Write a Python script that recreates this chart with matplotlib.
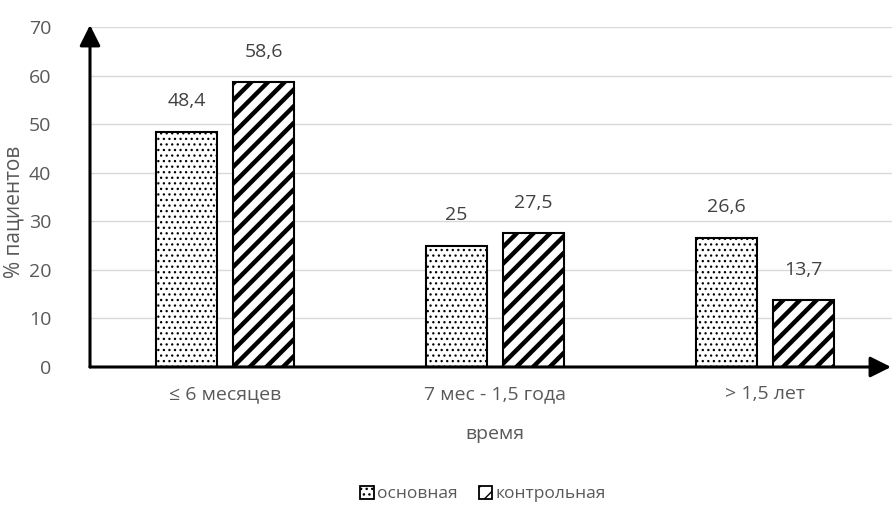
import matplotlib
matplotlib.use("Agg")
import matplotlib.pyplot as plt
import numpy as np
from matplotlib.patches import Patch, FancyArrowPatch

categories = ["≤ 6 месяцев", "7 мес - 1,5 года", "> 1,5 лет"]
main_group = [48.4, 25.0, 26.6]
control_group = [58.6, 27.5, 13.7]
series_names = ["основная", "контрольная"]
value_labels_main = ["48,4", "25", "26,6"]
value_labels_control = ["58,6", "27,5", "13,7"]

plt.rcParams["font.family"] = ["Open Sans", "DejaVu Sans"]
plt.rcParams["hatch.color"] = "black"


def set_hatch_lw(patch, lw):
    if hasattr(patch, "set_hatch_linewidth"):
        patch.set_hatch_linewidth(lw)
    else:
        patch._hatch_linewidth = lw


W, H = 892, 517
fig = plt.figure(figsize=(W / 100, H / 100), dpi=100)
x0, x1 = 90, 900
y0, y1 = 367, 27
ax = fig.add_axes([x0 / W, 1 - y0 / H, (x1 - x0) / W, (y0 - y1) / H])
ax.set_xlim(-0.5, 2.5)
ax.set_ylim(0, 70)

text_color = "#595959"
label_color = "#404040"
x = np.arange(len(categories))
bw = 0.226
off = 0.1426

b1 = ax.bar(x - off, main_group, bw, facecolor="white", edgecolor="black",
            linewidth=1.5, hatch="...", zorder=3)
b2 = ax.bar(x + off, control_group, bw, facecolor="white", edgecolor="black",
            linewidth=1.5, hatch="//", zorder=3)
for b in b1:
    set_hatch_lw(b, 0.9)
for b in b2:
    set_hatch_lw(b, 3.2)

for i in range(len(categories)):
    ax.text(x[i] - off, main_group[i] + 6.3, value_labels_main[i], ha="center",
            va="center", fontsize=14, color=label_color)
    ax.text(x[i] + off, control_group[i] + 6.3, value_labels_control[i], ha="center",
            va="center", fontsize=14, color=label_color)

ax.set_yticks(np.arange(0, 71, 10))
ax.yaxis.grid(True, color="#d9d9d9", linewidth=1.0, zorder=0)
ax.set_axisbelow(True)
for s in ax.spines.values():
    s.set_visible(False)
ax.tick_params(axis="both", length=0, labelsize=14, labelcolor=text_color)
ax.tick_params(axis="y", pad=28)
ax.tick_params(axis="x", pad=13)
ax.set_xticks(x)
ax.set_xticklabels(categories)
ax.set_xlabel("время", fontsize=14, color=text_color, labelpad=16)
ax.set_ylabel("% пациентов", fontsize=15, color=text_color)
ax.yaxis.set_label_coords((25 - x0) / (x1 - x0), (y0 - 212) / (y0 - y1))

# axis arrows
fig.add_artist(FancyArrowPatch(
    (x0 / W, 1 - y0 / H), (x0 / W, 1 - 25 / H), transform=fig.transFigure,
    arrowstyle="-|>,head_length=0.9,head_width=0.45", mutation_scale=14,
    color="black", linewidth=2.2, shrinkA=0, shrinkB=0))
fig.add_artist(FancyArrowPatch(
    (x0 / W, 1 - y0 / H), (891 / W, 1 - y0 / H), transform=fig.transFigure,
    arrowstyle="-|>,head_length=0.9,head_width=0.45", mutation_scale=14,
    color="black", linewidth=2.2, shrinkA=0, shrinkB=0))

h1 = Patch(facecolor="white", edgecolor="black", linewidth=1.3, hatch="...",
           label=series_names[0])
h2 = Patch(facecolor="white", edgecolor="black", linewidth=1.3, hatch="//",
           label=series_names[1])
set_hatch_lw(h1, 0.9)
set_hatch_lw(h2, 2.5)
leg = fig.legend(handles=[h1, h2], loc="center", bbox_to_anchor=(483 / W, 1 - 494 / H),
                 ncol=2, frameon=False, fontsize=12.5, handlelength=0.8, handleheight=0.8,
                 handletextpad=0.2, columnspacing=1.2, borderpad=0)
for t in leg.get_texts():
    t.set_color(text_color)

fig.savefig("out.png", dpi=100)
